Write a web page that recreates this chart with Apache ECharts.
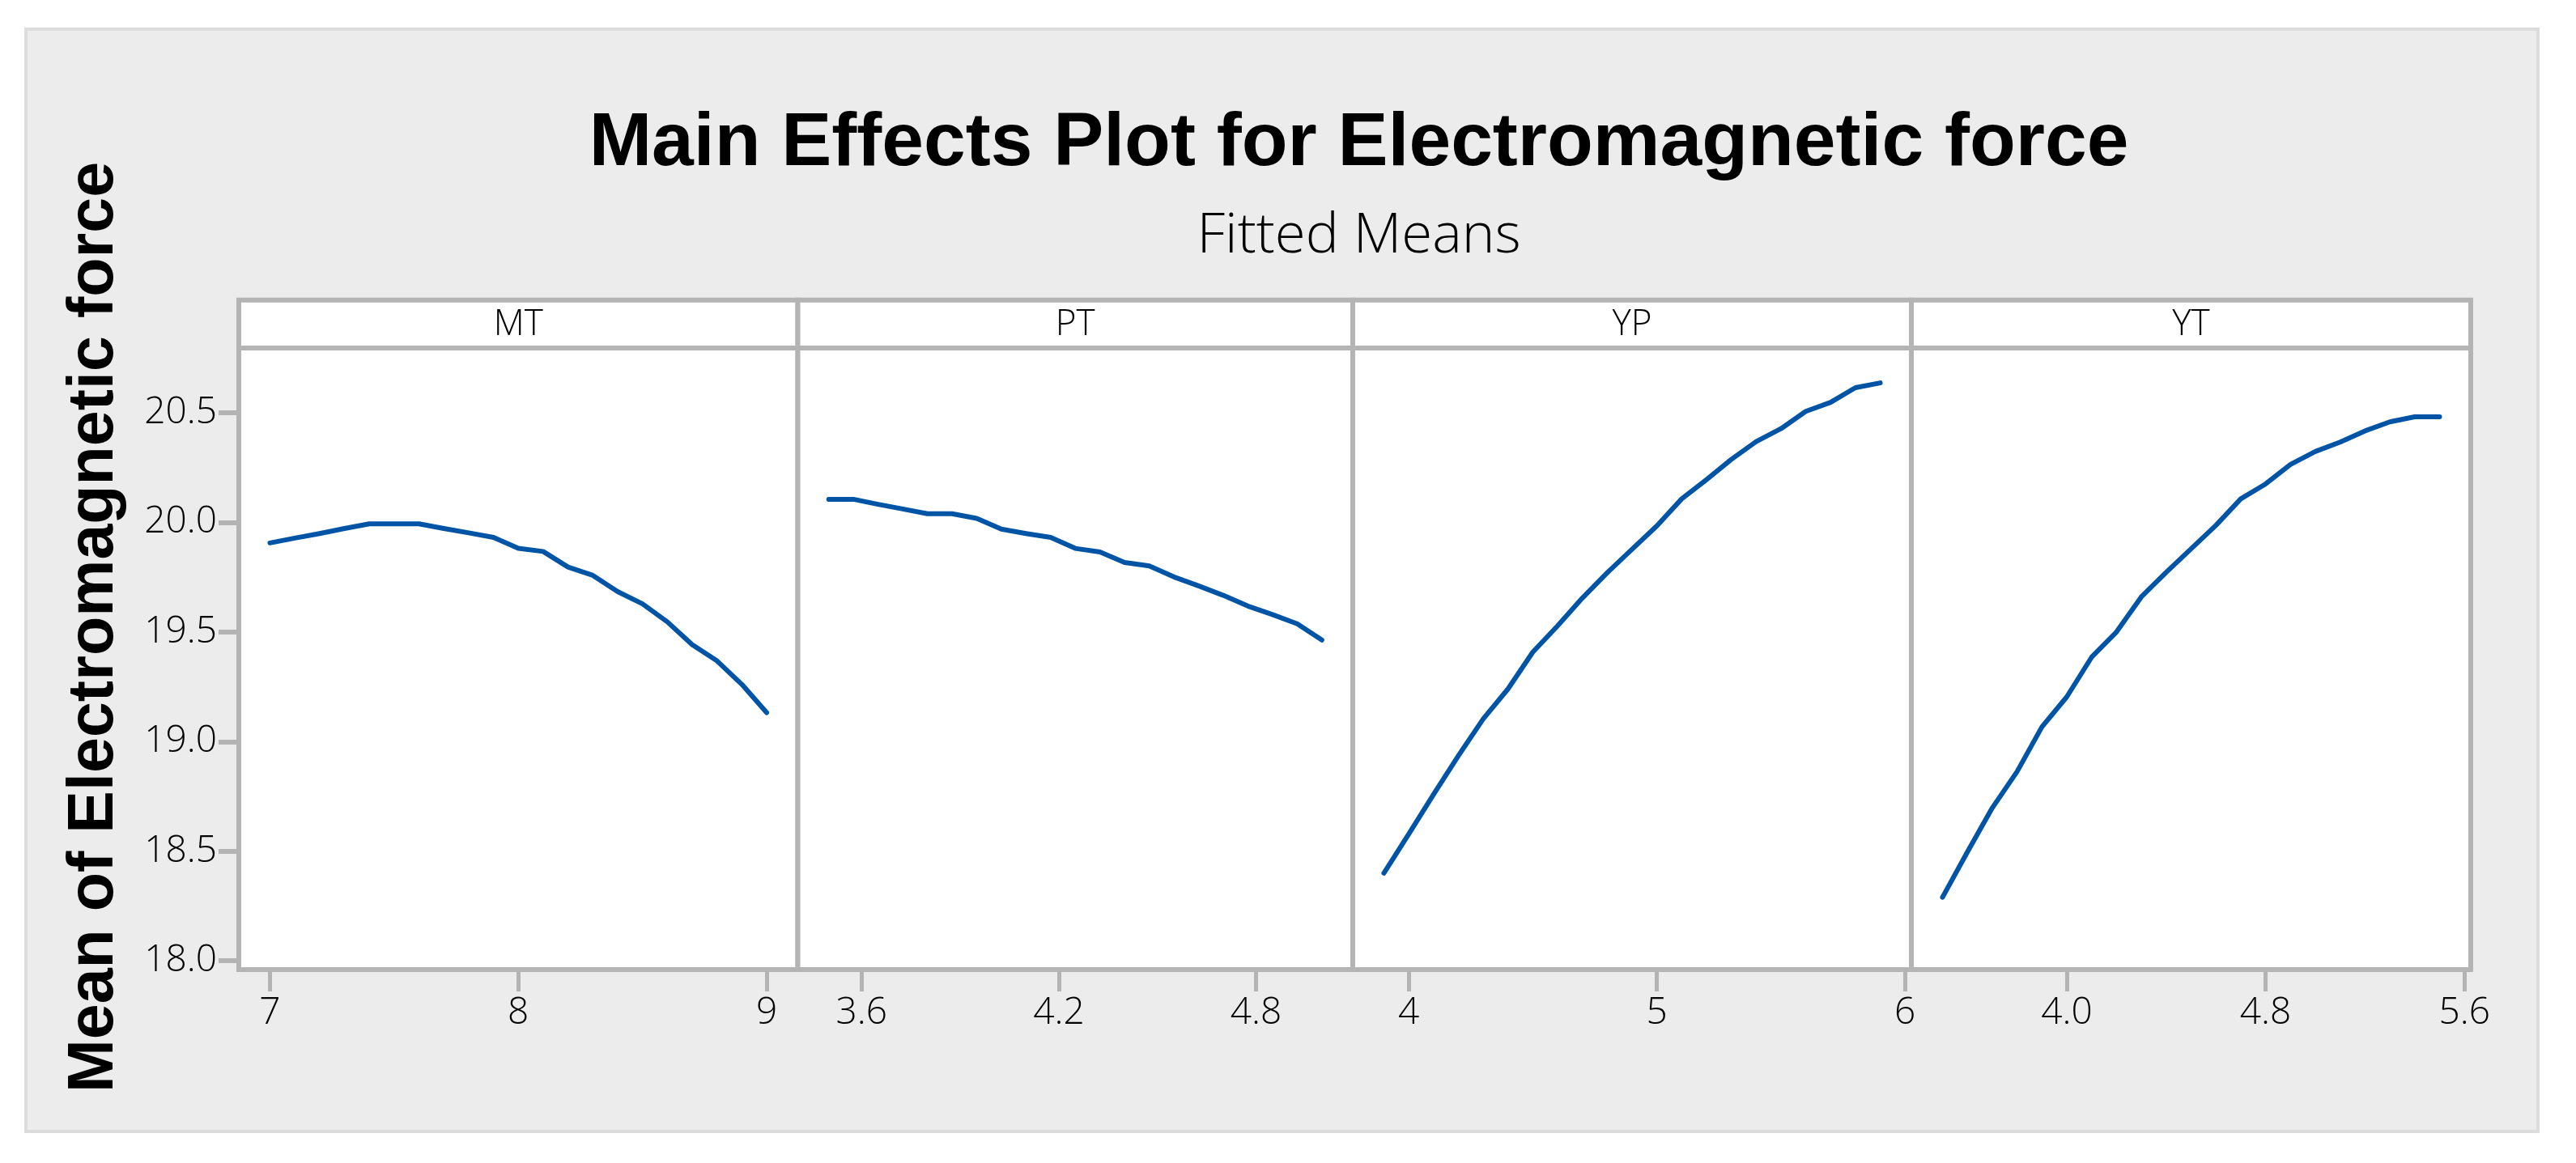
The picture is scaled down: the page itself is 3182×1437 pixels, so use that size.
<!DOCTYPE html>
<html>
<head>
<meta charset="utf-8">
<script src="https://cdn.jsdelivr.net/npm/echarts@6/dist/echarts.min.js"></script>
<style>
html,body{margin:0;padding:0;background:#fff;}
#chart{width:3182px;height:1437px;}
</style>
</head>
<body>
<div id="chart"></div>
<script>
// ---- data ----
const factorNames = ['MT', 'PT', 'YP', 'YT'];

const mtX = [7.0, 7.1, 7.2, 7.3, 7.4, 7.5, 7.6, 7.7, 7.8, 7.9, 8.0, 8.1, 8.2, 8.3, 8.4, 8.5, 8.6, 8.7, 8.8, 8.9, 9.0];
const mtY = [19.906, 19.928, 19.949, 19.972, 19.993, 19.993, 19.993, 19.972, 19.952, 19.931, 19.881, 19.867, 19.796, 19.758, 19.684, 19.628, 19.546, 19.442, 19.368, 19.261, 19.132];

const ptX = [3.5, 3.575, 3.65, 3.725, 3.8, 3.875, 3.95, 4.025, 4.1, 4.175, 4.25, 4.325, 4.4, 4.475, 4.55, 4.625, 4.7, 4.775, 4.85, 4.925, 5.0];
const ptY = [20.105, 20.105, 20.082, 20.061, 20.039, 20.039, 20.018, 19.969, 19.949, 19.931, 19.881, 19.865, 19.817, 19.801, 19.751, 19.710, 19.667, 19.618, 19.579, 19.537, 19.463];

const ypX = [3.9, 4.0, 4.1, 4.2, 4.3, 4.4, 4.5, 4.6, 4.7, 4.8, 4.9, 5.0, 5.1, 5.2, 5.3, 5.4, 5.5, 5.6, 5.7, 5.8, 5.9];
const ypY = [18.400, 18.578, 18.759, 18.935, 19.103, 19.240, 19.408, 19.528, 19.655, 19.770, 19.877, 19.984, 20.107, 20.195, 20.287, 20.368, 20.427, 20.506, 20.547, 20.614, 20.636];

const ytX = [3.5, 3.6, 3.7, 3.8, 3.9, 4.0, 4.1, 4.2, 4.3, 4.4, 4.5, 4.6, 4.7, 4.8, 4.9, 5.0, 5.1, 5.2, 5.3, 5.4, 5.5];
const ytY = [18.290, 18.496, 18.697, 18.863, 19.067, 19.204, 19.385, 19.500, 19.660, 19.772, 19.879, 19.986, 20.107, 20.175, 20.264, 20.323, 20.366, 20.417, 20.458, 20.481, 20.481];

const mtTicks = [7, 8, 9];
const ptTicks = [3.6, 4.2, 4.8];
const ypTicks = [4, 5, 6];
const ytTicks = [4.0, 4.8, 5.6];
const yTicks = [18.0, 18.5, 19.0, 19.5, 20.0, 20.5];

const titleText = 'Main Effects Plot for Electromagnetic force';
const subtitleText = 'Fitted Means';
const yAxisTitle = 'Mean of Electromagnetic force';

// ---- layout ----
const xs = [mtX, ptX, ypX, ytX];
const ys = [mtY, ptY, ypY, ytY];
const ticks = [mtTicks, ptTicks, ypTicks, ytTicks];
const decimals = [0, 1, 0, 1];
const gridLefts = [295, 985.5, 1671, 2361];
const gridWidths = [690.5, 685.5, 690, 691];
const gridTop = 430, gridBottomY = 1198;
const stripTop = 370.7;
const plotCenterX = (gridLefts[0] + gridLefts[3] + gridWidths[3]) / 2;
const light = "'Open Sans', 'Noto Sans', sans-serif";
const border = '#B4B4B4';

const grids = [], xAxes = [], yAxes = [], series = [], graphics = [];

graphics.push({
  type: 'rect', z: -10,
  shape: { x: 32, y: 36, width: 3103, height: 1362 },
  style: { fill: '#ECECEC', stroke: '#DCDCDC', lineWidth: 4 }
});

for (let i = 0; i < 4; i++) {
  const xd = xs[i];
  const lo = Math.min(...xd), hi = Math.max(...xd);
  const pad = (hi - lo) * 0.0627;
  grids.push({
    left: gridLefts[i], top: gridTop, width: gridWidths[i], height: gridBottomY - gridTop,
    show: true, backgroundColor: '#FFFFFF', borderColor: border, borderWidth: 6
  });
  xAxes.push({
    type: 'value', gridIndex: i, min: lo - pad, max: hi + pad,
    axisLine: { show: false },
    splitLine: { show: false },
    axisTick: { show: true, customValues: ticks[i], length: 27, lineStyle: { color: border, width: 5 } },
    axisLabel: {
      customValues: ticks[i], margin: 31, fontSize: 46, fontWeight: 300, fontFamily: light, color: '#000',
      formatter: (function (d) { return function (v) { return Number(v).toFixed(d); }; })(decimals[i])
    }
  });
  yAxes.push({
    type: 'value', gridIndex: i, min: 17.96, max: 20.795, show: i === 0,
    axisLine: { show: false },
    splitLine: { show: false },
    axisTick: { show: true, customValues: yTicks, length: 25, lineStyle: { color: border, width: 6 } },
    axisLabel: {
      customValues: yTicks, margin: 27, fontSize: 46, fontWeight: 300, fontFamily: light, color: '#000',
      formatter: function (v) { return Number(v).toFixed(1); }
    }
  });
  series.push({
    type: 'line', xAxisIndex: i, yAxisIndex: i, name: factorNames[i],
    data: xd.map(function (x, k) { return [x, ys[i][k]]; }),
    showSymbol: false, symbol: 'none', smooth: false,
    lineStyle: { color: '#0054A6', width: 6, cap: 'round', join: 'round' },
    animation: false
  });
  graphics.push({
    type: 'rect', z: 5,
    shape: { x: gridLefts[i], y: stripTop, width: gridWidths[i], height: gridTop - stripTop },
    style: { fill: '#FFFFFF', stroke: border, lineWidth: 6 }
  });
  graphics.push({
    type: 'text', z: 6,
    x: gridLefts[i] + gridWidths[i] / 2, y: 401,
    style: {
      text: factorNames[i], fontSize: 44, fontWeight: 300, fontFamily: light, fill: '#000',
      align: 'center', verticalAlign: 'middle', textAlign: 'center', textVerticalAlign: 'middle'
    }
  });
}

graphics.push({
  type: 'text', z: 6,
  x: 117, y: 775, rotation: Math.PI / 2,
  style: {
    text: yAxisTitle, fontSize: 79, fontWeight: 'bold', fontFamily: "'Liberation Sans', sans-serif", fill: '#000',
    align: 'center', verticalAlign: 'middle', textAlign: 'center', textVerticalAlign: 'middle'
  }
});

const chart = echarts.init(document.getElementById('chart'), null, { renderer: 'canvas' });
chart.setOption({
  backgroundColor: '#FFFFFF',
  animation: false,
  title: [
    {
      text: titleText, left: plotCenterX, textAlign: 'center', top: 127,
      textStyle: { fontSize: 93, fontWeight: 'bold', fontFamily: "'Liberation Sans', sans-serif", color: '#000' }
    },
    {
      text: subtitleText, left: plotCenterX, textAlign: 'center', top: 253,
      textStyle: { fontSize: 69, fontWeight: 300, fontFamily: light, color: '#000' }
    }
  ],
  grid: grids,
  xAxis: xAxes,
  yAxis: yAxes,
  series: series,
  graphic: { elements: graphics }
});
</script>
</body>
</html>
